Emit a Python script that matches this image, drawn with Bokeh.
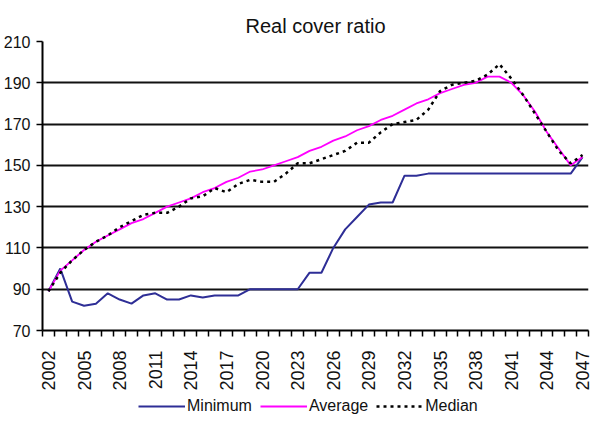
import math
from bokeh.plotting import figure
from bokeh.layouts import column
from bokeh.models import FixedTicker, Legend, LegendItem, Range1d
from bokeh.embed import file_html
from bokeh.resources import INLINE

years = list(range(2002, 2048))
minimum = [89, 100, 84, 82, 83, 88, 85, 83, 87, 88, 85, 85, 87, 86, 87, 87, 87, 90,
           90, 90, 90, 90, 98, 98, 110, 119, 125, 131, 132, 132, 145, 145, 146, 146,
           146, 146, 146, 146, 146, 146, 146, 146, 146, 146, 146, 154]
average = [89, 99, 104, 109, 113, 116, 119, 122, 124, 127, 130, 132, 134, 137, 139, 142,
           144, 147, 148, 150, 152, 154, 157, 159, 162, 164, 167, 169, 172, 174, 177, 180,
           182, 185, 187, 189, 190, 193, 193, 190, 184, 176, 166, 158, 150, 154]
median = [89, 98, 104, 109, 113, 116, 120, 123, 126, 127, 127, 130, 134, 135, 139, 137,
          141, 143, 142, 142, 146, 151, 151, 153, 155, 157, 161, 161, 166, 170, 171, 172,
          177, 186, 189, 190, 191, 194, 199, 192, 184, 175, 166, 157, 151, 155]
series_names = ["Minimum", "Average", "Median"]
label_years = list(range(2002, 2048, 3))
y_ticks = list(range(70, 211, 20))

FONT = "Liberation Sans"
TXT = "#111111"
styles = [dict(line_color="#2E2E96", line_width=2),
          dict(line_color="#FF00FF", line_width=1.8),
          dict(line_color="black", line_width=2.5, line_dash="3 4")]

p = figure(width=594, height=394, output_backend="svg", toolbar_location=None,
           title="Real cover ratio",
           x_range=Range1d(years[0] - 0.5, years[-1] + 0.5),
           y_range=Range1d(70, 210),
           min_border_left=42, min_border_right=6, min_border_top=41,
           min_border_bottom=64,
           outline_line_color=None)

p.title.align = "center"
p.title.text_font = FONT
p.title.text_font_size = "20px"
p.title.text_font_style = "normal"
p.title.text_color = TXT
p.title.standoff = 10

for vals, st in zip([minimum, average, median], styles):
    p.line(years, vals, **st)

# axes
p.xgrid.grid_line_color = None
p.ygrid.grid_line_color = "#111111"
p.ygrid.grid_line_width = 2
p.yaxis.ticker = FixedTicker(ticks=y_ticks)
p.xaxis.ticker = FixedTicker(ticks=label_years,
                             minor_ticks=[y - 0.5 for y in years] + [years[-1] + 0.5])
p.xaxis.major_label_orientation = math.pi / 2
p.xaxis.major_tick_out = 0
p.xaxis.major_tick_in = 0
p.xaxis.minor_tick_out = 6
p.xaxis.minor_tick_in = 0
p.xaxis.minor_tick_line_color = "black"
p.xaxis.minor_tick_line_width = 1.5
for ax in (p.xaxis, p.yaxis):
    ax.axis_line_color = "black"
    ax.axis_line_width = 2
    ax.major_label_text_font = FONT
    ax.major_label_text_color = TXT
p.xaxis.major_label_text_font_size = "18px"
p.yaxis.major_label_text_font_size = "16px"
p.yaxis.major_tick_out = 6
p.yaxis.major_tick_in = 0
p.yaxis.major_tick_line_width = 1.5
p.yaxis.minor_tick_line_color = None
p.yaxis.major_label_standoff = 6
p.xaxis.major_label_standoff = 14

# legend strip below the chart (series drawn outside its visible range)
lg = figure(width=594, height=22, output_backend="svg", toolbar_location=None,
            x_range=Range1d(0, 1), y_range=Range1d(0, 1),
            min_border=0, outline_line_color=None)
lg.axis.visible = False
lg.grid.visible = False
items = []
for name, vals, st in zip(series_names, [minimum, average, median], styles):
    r = lg.line(years, vals, **st)
    items.append(LegendItem(label=name, renderers=[r]))
legend = Legend(items=items, orientation="horizontal", location=(96, 0),
                border_line_color=None, background_fill_alpha=0,
                glyph_width=47, glyph_height=20, label_standoff=2, spacing=8,
                padding=0, margin=0,
                label_text_font=FONT, label_text_font_size="16px",
                label_text_color=TXT)
lg.add_layout(legend)

open("out.html", "w").write(file_html(column(p, lg), INLINE))
